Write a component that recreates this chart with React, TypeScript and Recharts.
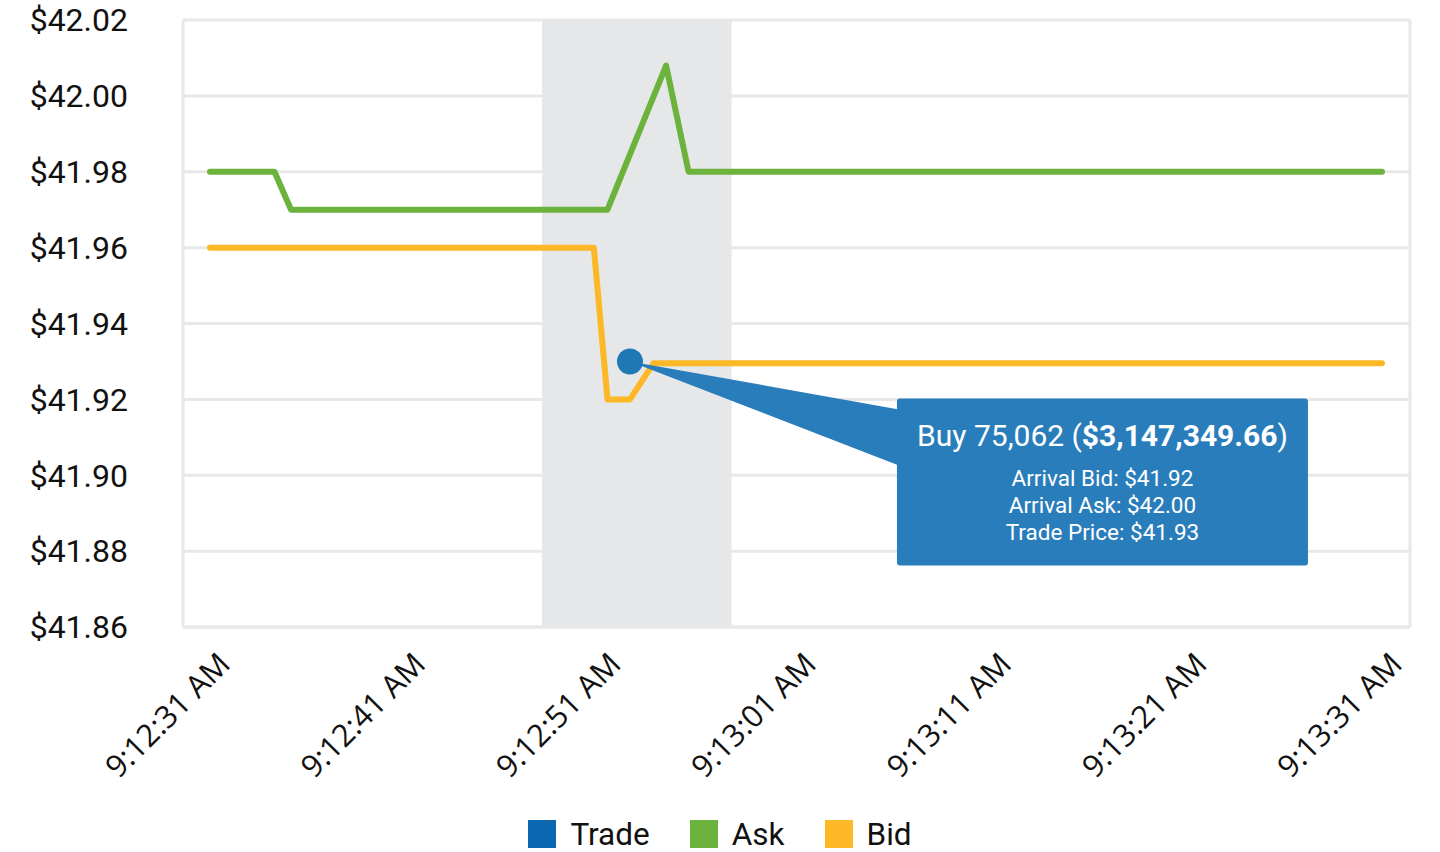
import React from "react"
import {
  LineChart,
  Line,
  XAxis,
  YAxis,
  CartesianGrid,
  ReferenceArea,
  ReferenceDot,
  Legend,
} from "recharts"

// seconds after 9:12:31 AM
const askTimes = [0, 3.3, 4.15, 20.35, 23.35, 24.5, 60]
const askPrices = [41.98, 41.98, 41.97, 41.97, 42.008, 41.98, 41.98]

const bidTimes = [0, 19.65, 20.35, 21.5, 22.7, 60]
const bidPrices = [41.96, 41.96, 41.92, 41.92, 41.9295, 41.9295]

const tradeTime = 21.5
const tradePrice = 41.93
const tradeSide = "Buy"
const tradeQty = "75,062"
const tradeValue = "$3,147,349.66"
const arrivalBid = 41.92
const arrivalAsk = 42.0

// shaded window around the trade
const windowStart = 17
const windowEnd = 26.7

const xTicks = [0, 10, 20, 30, 40, 50, 60]
const yTicks = [41.86, 41.88, 41.9, 41.92, 41.94, 41.96, 41.98, 42.0, 42.02]

const legendItems = [
  { name: "Trade", color: "#0b67b0" },
  { name: "Ask", color: "#6cb33e" },
  { name: "Bid", color: "#fdb827" },
]

const askData = askTimes.map((t, i) => ({ t, price: askPrices[i] }))
const bidData = bidTimes.map((t, i) => ({ t, price: bidPrices[i] }))

const formatTime = (s: number) => {
  const total = 9 * 3600 + 12 * 60 + 31 + s
  const h = Math.floor(total / 3600)
  const m = Math.floor((total % 3600) / 60)
  const sec = Math.round(total % 60)
  return `${h}:${String(m).padStart(2, "0")}:${String(sec).padStart(2, "0")} AM`
}

const TimeTick = ({ x, y, payload }: any) => (
  <text
    transform={`translate(${x + 22},${y + 31}) rotate(-45)`}
    textAnchor="end"
    fontFamily="'Open Sans', sans-serif"
    fontSize={31}
    fill="#111"
  >
    {formatTime(payload.value)}
  </text>
)

// trade marker with its callout box
const TradeMarker = ({ cx, cy }: any) => {
  const bx = cx + 267
  const by = cy + 37
  const bw = 411
  const bh = 167
  const mid = bx + bw / 2
  return (
    <g>
      <polygon points={`${cx},${cy} ${bx + 2},${cy + 48} ${bx + 2},${cy + 104}`} fill="#2a7dbb" />
      <rect x={bx} y={by} width={bw} height={bh} rx={3} fill="#2a7dbb" />
      <circle cx={cx} cy={cy} r={13} fill="#1f77b4" />
      <text x={mid} y={cy + 85} textAnchor="middle" fontFamily="Roboto" fontSize={30} fill="#fff">
        {tradeSide} {tradeQty} (<tspan fontWeight="bold">{tradeValue}</tspan>)
      </text>
      <text textAnchor="middle" fontFamily="Roboto" fontSize={22.5} fill="#fff">
        <tspan x={mid} y={cy + 125}>Arrival Bid: ${arrivalBid.toFixed(2)}</tspan>
        <tspan x={mid} y={cy + 152}>Arrival Ask: ${arrivalAsk.toFixed(2)}</tspan>
        <tspan x={mid} y={cy + 179}>Trade Price: ${tradePrice.toFixed(2)}</tspan>
      </text>
    </g>
  )
}

const LegendContent = () => (
  <div
    style={{
      height: 50,
      paddingTop: 14,
      boxSizing: "border-box",
      display: "flex",
      justifyContent: "center",
      alignItems: "center",
      fontFamily: "Roboto",
      fontSize: 31.5,
      color: "#111",
    }}
  >
    {legendItems.map((item) => (
      <div key={item.name} style={{ display: "flex", alignItems: "center", margin: "0 20px" }}>
        <div style={{ width: 28, height: 28, background: item.color, marginRight: 14 }} />
        <span>{item.name}</span>
      </div>
    ))}
  </div>
)

export default function App() {
  return (
    <div style={{ width: 1440, height: 852 }}>
      <style>{`body{margin:0}`}</style>
      <LineChart width={1440} height={852} margin={{ top: 20, right: 30, bottom: 0, left: 0 }}>
        <CartesianGrid
          stroke="#e8e8e8"
          strokeWidth={3}
          verticalCoordinatesGenerator={({ offset }: any) => [offset.left, offset.left + offset.width]}
        />
        <XAxis
          dataKey="t"
          type="number"
          domain={[0, 60]}
          ticks={xTicks}
          padding={{ left: 27, right: 28 }}
          height={175}
          axisLine={{ stroke: "#e8e8e8", strokeWidth: 3 }}
          tickLine={false}
          tick={<TimeTick />}
          interval={0}
          allowDuplicatedCategory={false}
        />
        <YAxis
          type="number"
          domain={[41.86, 42.02]}
          ticks={yTicks}
          width={183}
          axisLine={false}
          tickLine={false}
          tickSize={6}
          tickMargin={49}
          tickFormatter={(v: number) => `$${v.toFixed(2)}`}
          tick={{ fontFamily: "Roboto", fontSize: 32, fill: "#111" }}
        />
        <ReferenceArea x1={windowStart} x2={windowEnd} y1={41.86} y2={42.02} fill="#e6e7e9" fillOpacity={1} />
        <Line
          data={askData}
          dataKey="price"
          name="Ask"
          stroke="#6cb33e"
          strokeWidth={6}
          dot={false}
          strokeLinecap="round"
          strokeLinejoin="round"
          isAnimationActive={false}
        />
        <Line
          data={bidData}
          dataKey="price"
          name="Bid"
          stroke="#fdb827"
          strokeWidth={6}
          dot={false}
          strokeLinecap="round"
          strokeLinejoin="round"
          isAnimationActive={false}
        />
        <ReferenceDot x={tradeTime} y={tradePrice} shape={<TradeMarker />} />
        <Legend verticalAlign="bottom" content={<LegendContent />} wrapperStyle={{ left: 0, width: 1440 }} />
      </LineChart>
    </div>
  )
}
